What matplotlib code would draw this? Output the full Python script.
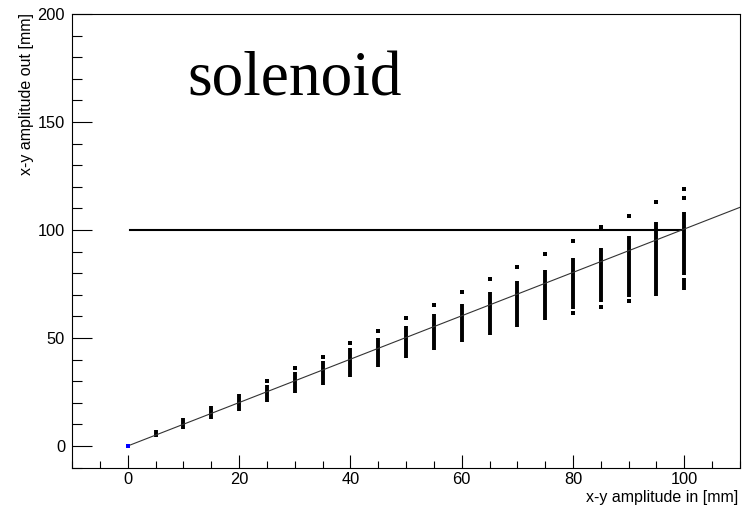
import matplotlib
matplotlib.use("Agg")
import matplotlib.pyplot as plt
from matplotlib.ticker import MultipleLocator

# ---- data ----
x_in = [5, 10, 15, 20, 25, 30, 35, 40, 45, 50, 55, 60, 65, 70, 75, 80, 85, 90, 95, 100]
bar_lo = [4.2, 7.9, 12.4, 16.0, 20.5, 24.4, 28.2, 32.1, 36.7, 40.6,
          44.4, 48.1, 51.5, 55.0, 58.3, 63.3, 66.8, 69.1, 69.4, 79.2]
bar_hi = [7.4, 12.8, 18.6, 24.3, 28.2, 34.4, 39.5, 45.2, 49.9, 55.6,
          61.0, 65.7, 71.4, 76.2, 81.3, 86.9, 91.8, 97.4, 103.5, 108.5]
extra_x = [100]
extra_lo = [72.2]
extra_hi = [77.6]
out_x = [25, 30, 35, 40, 45, 50, 55, 60, 65, 70, 75, 80, 85, 90, 95, 100, 100, 80, 85, 90]
out_y = [30.1, 36.0, 41.3, 47.5, 53.4, 59.1, 65.2, 71.3, 77.2, 82.8, 89.0, 95.0,
         101.2, 106.6, 112.8, 118.8, 115.0, 61.7, 64.5, 67.3]
ref_x = [0.5, 100]
ref_y = [100, 100]
fit_x = [0, 110]
fit_y = [0, 110.5]
origin_x = [0]
origin_y = [0]

W, H = 746, 512
fig = plt.figure(figsize=(W / 100, H / 100), dpi=100)
ax = fig.add_axes([72 / W, (H - 467.6) / H, 668 / W, 453.6 / H])
ax.set_xlim(-10, 110)
ax.set_ylim(-10, 200)

ax.vlines(x_in, bar_lo, bar_hi, colors="black", linewidth=2.8, capstyle="butt", zorder=3)
ax.vlines(extra_x, extra_lo, extra_hi, colors="black", linewidth=2.8, capstyle="butt", zorder=3)
ax.plot(out_x, out_y, linestyle="none", marker="s", markersize=2.6,
        color="black", markeredgewidth=0, zorder=3)
ax.plot(ref_x, ref_y, color="black", linewidth=1.5, zorder=2)
ax.plot(fit_x, fit_y, color="#333333", linewidth=0.8, zorder=4)
ax.plot(origin_x, origin_y, linestyle="none", marker="s", markersize=2.6,
        color="#0000ff", markeredgewidth=0, zorder=5)

for s in ax.spines.values():
    s.set_linewidth(0.8)
    s.set_color("black")

ax.xaxis.set_major_locator(MultipleLocator(20))
ax.xaxis.set_minor_locator(MultipleLocator(5))
ax.yaxis.set_major_locator(MultipleLocator(50))
ax.yaxis.set_minor_locator(MultipleLocator(10))

ax.tick_params(axis="x", which="major", direction="in", length=9.4, width=0.8, pad=3.5,
               top=False, labelsize=11.8)
ax.tick_params(axis="x", which="minor", direction="in", length=5, width=0.8, top=False)
ax.tick_params(axis="y", which="major", direction="in", length=14.4, width=0.8, pad=5,
               right=False, labelsize=11.8)
ax.tick_params(axis="y", which="minor", direction="in", length=7.2, width=0.8, right=False)
for lab in ax.get_xticklabels() + ax.get_yticklabels():
    lab.set_fontfamily("Liberation Sans")

ax.text(0.997, -0.049, "x-y amplitude in [mm]", transform=ax.transAxes,
        ha="right", va="top", fontsize=11.5, family="Liberation Sans")
ax.text(-0.0674, 1.003, "x-y amplitude out [mm]", transform=ax.transAxes,
        ha="center", va="top", rotation=90, fontsize=11.5, family="Liberation Sans")

ax.text(10.8, 162.2, "solenoid", ha="left", va="baseline", fontsize=45.5,
        family="Liberation Serif")

fig.savefig("out.png", dpi=100)
